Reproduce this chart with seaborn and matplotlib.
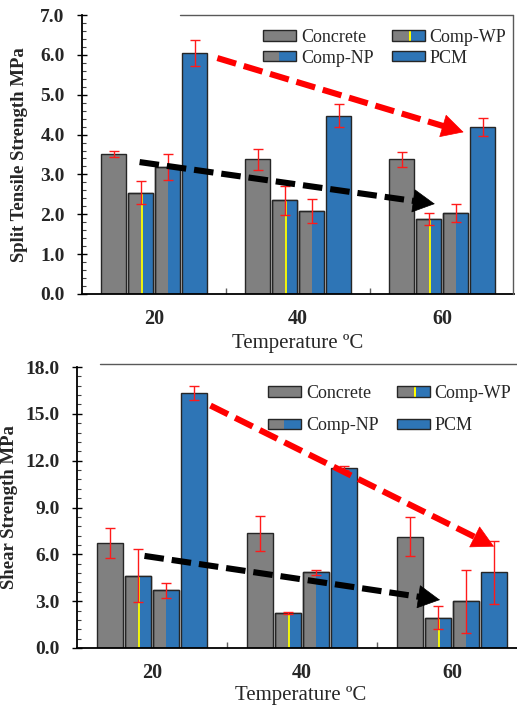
import matplotlib
matplotlib.use("Agg")
import matplotlib.pyplot as plt
from matplotlib.legend_handler import HandlerBase
from matplotlib.lines import Line2D
from matplotlib.patches import Patch, Rectangle
import numpy as np
import pandas as pd
import seaborn as sns

temperatures = ["20", "40", "60"]
materials = ["Concrete", "Comp-WP", "Comp-NP", "PCM"]

tensile_concrete = [3.51, 3.38, 3.38]
tensile_wp = [2.54, 2.35, 1.87]
tensile_np = [3.18, 2.09, 2.03]
tensile_pcm = [6.05, 4.47, 4.19]
tensile_concrete_err = [0.08, 0.26, 0.19]
tensile_wp_err = [0.29, 0.36, 0.15]
tensile_np_err = [0.32, 0.30, 0.23]
tensile_pcm_err = [0.32, 0.29, 0.23]

shear_concrete = [6.74, 7.34, 7.13]
shear_wp = [4.64, 2.25, 1.95]
shear_np = [3.70, 4.84, 2.98]
shear_pcm = [16.33, 11.54, 4.84]
shear_concrete_err = [0.96, 1.11, 1.24]
shear_wp_err = [1.68, 0.05, 0.73]
shear_np_err = [0.47, 0.15, 2.02]
shear_pcm_err = [0.46, 0.14, 2.01]

# trend arrows (start, end) in data coordinates
tensile_red_arrow = [(0.44, 5.92), (2.15, 4.06)]
tensile_black_arrow = [(-0.10, 3.31), (1.95, 2.26)]
shear_red_arrow = [(0.39, 15.53), (2.28, 6.50)]
shear_black_arrow = [(-0.05, 5.90), (1.92, 3.08)]

GRAY = "#808080"
BLUE = "#2E75B6"
YELLOW = "#FFFF00"
EDGE = "#262626"
SPLIT = {"Comp-WP": 0.56, "Comp-NP": 0.5}
HEAD_PX = 20

sns.set_theme(style="ticks")
plt.rcParams["font.family"] = ["Liberation Serif", "DejaVu Serif"]


def make_frame(values):
    rows = []
    for mat, vals in zip(materials, values):
        for t, v in zip(temperatures, vals):
            rows.append({"temperature": t, "material": mat, "value": v})
    return pd.DataFrame(rows)


class SplitHandler(HandlerBase):
    """Legend box with gray left part, blue right part and optional yellow stripe."""

    def __init__(self, frac, stripe=False):
        super().__init__()
        self.frac = frac
        self.stripe = stripe

    def create_artists(self, legend, orig_handle, xdescent, ydescent, width, height, fontsize, trans):
        x0, y0 = -xdescent, -ydescent
        arts = [
            Rectangle((x0, y0), width * self.frac, height, facecolor=GRAY, edgecolor="none", transform=trans),
            Rectangle((x0 + width * self.frac, y0), width * (1 - self.frac), height,
                      facecolor=BLUE, edgecolor="none", transform=trans),
        ]
        if self.stripe:
            arts.append(Rectangle((x0 + width * self.frac - 1, y0), 2, height,
                                  facecolor=YELLOW, edgecolor="none", transform=trans))
        arts.append(Rectangle((x0, y0), width, height, fill=False, edgecolor=EDGE, lw=1, transform=trans))
        return arts


def draw_arrow(ax, start, end, color):
    """Dashed thick shaft with a solid triangular head."""
    p0 = ax.transData.transform(start)
    p1 = ax.transData.transform(end)
    d = (p1 - p0) / np.hypot(*(p1 - p0))
    shaft_end = ax.transData.inverted().transform(p1 - d * HEAD_PX * 0.8)
    head_base = ax.transData.inverted().transform(p1 - d * HEAD_PX)
    ax.plot([start[0], shaft_end[0]], [start[1], shaft_end[1]], color=color, lw=4.4,
            linestyle=(0, (3.2, 1.3)), solid_capstyle="butt", dash_capstyle="butt", zorder=5)
    ax.annotate("", xy=end, xytext=head_base,
                arrowprops=dict(arrowstyle="-|>,head_length=0.75,head_width=0.4", color=color,
                                lw=0.5, mutation_scale=20, shrinkA=0, shrinkB=0),
                zorder=5)


def draw_panel(ax, values, errors, ymax, ystep, yminor, ylabel, arrows, legend_anchor, labelspacing):
    df = make_frame(values)
    palette = {"Concrete": GRAY, "Comp-WP": GRAY, "Comp-NP": GRAY, "PCM": BLUE}
    sns.barplot(data=df, x="temperature", y="value", hue="material", hue_order=materials,
                palette=palette, width=0.75, gap=0.09, edgecolor=EDGE, linewidth=1,
                saturation=1, errorbar=None, legend=False, ax=ax)

    containers = list(ax.containers)[:4]
    for container, mat, errs in zip(containers, materials, errors):
        for bar, e in zip(container, errs):
            x0, w, h = bar.get_x(), bar.get_width(), bar.get_height()
            if mat in SPLIT:
                f = SPLIT[mat]
                ax.bar(x0 + f * w, h, width=(1 - f) * w, align="edge", color=BLUE, lw=0, zorder=2)
                if mat == "Comp-WP":
                    ax.vlines(x0 + f * w, 0, h, color=YELLOW, lw=1.3, zorder=2.1)
                ax.bar(x0, h, width=w, align="edge", fill=False, edgecolor=EDGE, lw=1, zorder=2.2)
            ax.errorbar(x0 + w / 2, h, yerr=e, fmt="none", ecolor="#FF1A1A", elinewidth=1,
                        capsize=3.4, capthick=1, zorder=3)

    ax.set_xlim(-0.5, 2.5)
    ax.set_ylim(0, ymax)
    ax.set_yticks([i * ystep for i in range(int(round(ymax / ystep)) + 1)])
    ax.set_yticks([i * yminor for i in range(int(round(ymax / yminor)) + 1)], minor=True)
    ax.yaxis.set_major_formatter(matplotlib.ticker.FormatStrFormatter("%.1f"))
    ax.set_xticks([0.5, 1.5], minor=True)

    for (start, end), color in zip(arrows, ["red", "black"]):
        draw_arrow(ax, start, end, color)

    for side in ["top", "right"]:
        ax.spines[side].set_visible(False)
    for side in ["left", "bottom"]:
        ax.spines[side].set_color("black")
        ax.spines[side].set_linewidth(1.3)

    ax.tick_params(axis="y", which="major", direction="inout", length=7, width=1, color="black",
                   labelsize=14, pad=9)
    ax.tick_params(axis="y", which="minor", direction="in", length=3, width=0.8, color="#404040")
    ax.tick_params(axis="x", which="major", length=0, labelsize=14.5, pad=11)
    ax.tick_params(axis="x", which="minor", direction="in", length=4.5, width=1, color="#606060")
    for lab in ax.get_yticklabels() + ax.get_xticklabels():
        lab.set_fontweight("bold")

    ax.set_ylabel(ylabel, fontsize=13.5, fontweight="bold")
    ax.set_xlabel("Temperature ºC", fontsize=15)
    ax.grid(False)

    h_con = Patch(facecolor=GRAY, edgecolor=EDGE)
    h_wp = Patch(facecolor=GRAY, edgecolor=EDGE)
    h_np = Patch(facecolor=GRAY, edgecolor=EDGE)
    h_pcm = Patch(facecolor=BLUE, edgecolor=EDGE)
    fig = ax.figure
    ax.legend([h_con, h_np, h_wp, h_pcm], ["Concrete", "Comp-NP", "Comp-WP", "PCM"],
              handler_map={h_wp: SplitHandler(0.55, stripe=True), h_np: SplitHandler(0.49)},
              ncol=2, loc="upper left", bbox_to_anchor=legend_anchor, bbox_transform=fig.transFigure,
              frameon=False, fontsize=13, handlelength=1.85, handleheight=0.5, handletextpad=0.25,
              columnspacing=1.0, labelspacing=labelspacing, borderpad=0, borderaxespad=0)


W, H = 517, 705
fig = plt.figure(figsize=(W / 100, H / 100), dpi=100)
ax_top = fig.add_axes([82 / W, 1 - 294 / H, 432 / W, 279 / H])
ax_bot = fig.add_axes([77 / W, 1 - 648 / H, 450 / W, 281 / H])

draw_panel(ax_top,
           [tensile_concrete, tensile_wp, tensile_np, tensile_pcm],
           [tensile_concrete_err, tensile_wp_err, tensile_np_err, tensile_pcm_err],
           7.0, 1.0, 0.2, "Split Tensile Strength MPa",
           [tensile_red_arrow, tensile_black_arrow], (263 / W, 1 - 29 / H), 0.2)
draw_panel(ax_bot,
           [shear_concrete, shear_wp, shear_np, shear_pcm],
           [shear_concrete_err, shear_wp_err, shear_np_err, shear_pcm_err],
           18.0, 3.0, 0.6, "Shear Strength MPa",
           [shear_red_arrow, shear_black_arrow], (268 / W, 1 - 385 / H), 0.85)

ax_top.yaxis.set_label_coords(-0.125, 0.5)
ax_top.xaxis.set_label_coords(0.5, -0.143)
ax_bot.yaxis.set_label_coords(-0.132, 0.5)
ax_bot.xaxis.set_label_coords(0.496, -0.137)

# frame edges of the original chart areas
fig.add_artist(Line2D([180 / W, 513 / W], [1 - 15 / H, 1 - 15 / H], color="#595959", lw=1))
fig.add_artist(Line2D([513 / W, 513 / W], [1 - 15 / H, 1 - 294 / H], color="#595959", lw=1))
fig.add_artist(Line2D([100 / W, 1.0], [1 - 364 / H, 1 - 364 / H], color="#595959", lw=1))

fig.savefig("out.png", dpi=100, facecolor="white")
